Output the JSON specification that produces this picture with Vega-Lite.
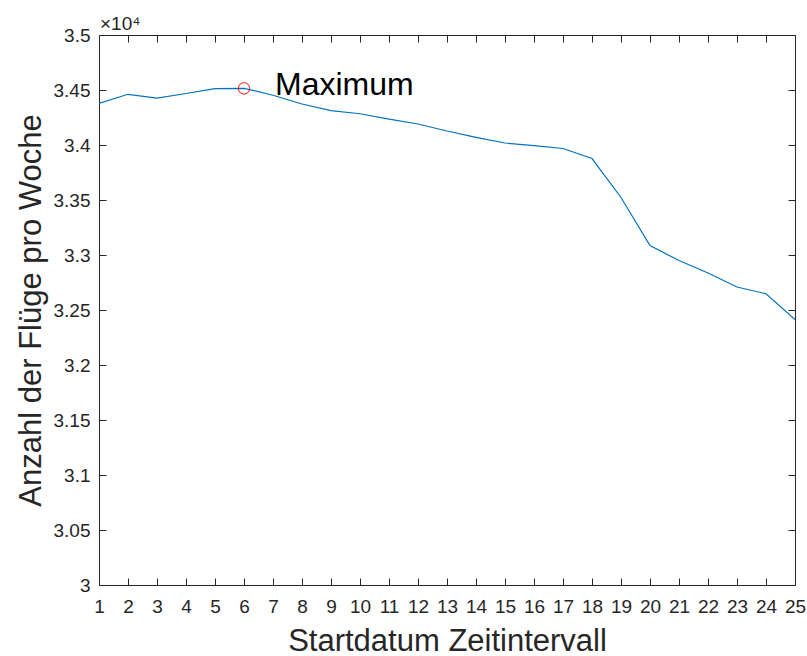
{
  "$schema": "https://vega.github.io/schema/vega-lite/v6.json",
  "autosize": "none",
  "width": 696,
  "height": 550,
  "padding": {"left": 99, "top": 35, "right": 12, "bottom": 71},
  "background": "white",
  "config": {
    "font": "Liberation Sans",
    "view": {"stroke": "#262626", "strokeWidth": 1},
    "axis": {
      "domainColor": "#262626",
      "tickColor": "#262626",
      "labelColor": "#262626",
      "titleColor": "#262626",
      "grid": false,
      "labelFont": "Liberation Sans",
      "titleFont": "Liberation Sans",
      "titleFontWeight": "normal",
      "domainWidth": 1,
      "tickWidth": 1
    }
  },
  "title": {
    "text": "×10⁴",
    "anchor": "start",
    "frame": "group",
    "font": "Liberation Sans",
    "fontSize": 19,
    "fontWeight": "normal",
    "color": "#262626",
    "offset": -8,
    "dx": 1
  },
  "datasets": {
    "flights": [
      {"interval": 1, "flights": 34379},
      {"interval": 2, "flights": 34461},
      {"interval": 3, "flights": 34427},
      {"interval": 4, "flights": 34468},
      {"interval": 5, "flights": 34512},
      {"interval": 6, "flights": 34515},
      {"interval": 7, "flights": 34452},
      {"interval": 8, "flights": 34373},
      {"interval": 9, "flights": 34312},
      {"interval": 10, "flights": 34284},
      {"interval": 11, "flights": 34236},
      {"interval": 12, "flights": 34191},
      {"interval": 13, "flights": 34127},
      {"interval": 14, "flights": 34070},
      {"interval": 15, "flights": 34018},
      {"interval": 16, "flights": 33994},
      {"interval": 17, "flights": 33968},
      {"interval": 18, "flights": 33877},
      {"interval": 19, "flights": 33523},
      {"interval": 20, "flights": 33085},
      {"interval": 21, "flights": 32950},
      {"interval": 22, "flights": 32836},
      {"interval": 23, "flights": 32709},
      {"interval": 24, "flights": 32648},
      {"interval": 25, "flights": 32414}
    ],
    "maximum": [
      {"interval": 6, "flights": 34515, "label": "Maximum"}
    ]
  },
  "layer": [
    {
      "data": {"name": "flights"},
      "mark": {"type": "line", "color": "#0072BD", "strokeWidth": 1.2, "clip": true},
      "encoding": {
        "x": {
          "field": "interval",
          "type": "quantitative",
          "scale": {"domain": [1, 25], "nice": false, "zero": false},
          "axis": {
            "orient": "bottom",
            "values": [1,2,3,4,5,6,7,8,9,10,11,12,13,14,15,16,17,18,19,20,21,22,23,24,25],
            "title": "Startdatum Zeitintervall",
            "titleFontSize": 31,
            "titlePadding": 10,
            "labelFontSize": 19,
            "ticks": false,
            "domain": false,
            "labelPadding": 12,
            "labelFlush": false,
            "labelOverlap": false
          }
        },
        "y": {
          "field": "flights",
          "type": "quantitative",
          "scale": {"domain": [30000, 35000], "nice": false, "zero": false},
          "axis": {
            "orient": "left",
            "values": [30000,30500,31000,31500,32000,32500,33000,33500,34000,34500,35000],
            "labelExpr": "datum.value / 10000",
            "title": "Anzahl der Flüge pro Woche",
            "titleFontSize": 31,
            "titlePadding": 6,
            "labelFontSize": 19,
            "ticks": false,
            "domain": false,
            "labelPadding": 9,
            "labelFlush": false,
            "labelOverlap": false
          }
        }
      }
    },
    {
      "data": {"name": "flights"},
      "mark": {"type": "line", "opacity": 0},
      "encoding": {
        "x": {
          "field": "interval",
          "type": "quantitative",
          "scale": {"domain": [1, 25], "nice": false, "zero": false},
          "axis": {
            "orient": "bottom",
            "offset": -7,
            "values": [1,2,3,4,5,6,7,8,9,10,11,12,13,14,15,16,17,18,19,20,21,22,23,24,25],
            "labels": false,
            "domain": false,
            "title": null,
            "tickSize": 7
          }
        },
        "y": {
          "field": "flights",
          "type": "quantitative",
          "scale": {"domain": [30000, 35000], "nice": false, "zero": false},
          "axis": {
            "orient": "left",
            "offset": -7,
            "values": [30000,30500,31000,31500,32000,32500,33000,33500,34000,34500,35000],
            "labels": false,
            "domain": false,
            "title": null,
            "tickSize": 7
          }
        }
      }
    },
    {
      "data": {"name": "flights"},
      "mark": {"type": "line", "opacity": 0},
      "encoding": {
        "x": {
          "field": "interval",
          "type": "quantitative",
          "scale": {"domain": [1, 25], "nice": false, "zero": false},
          "axis": {
            "orient": "top",
            "offset": -7,
            "values": [1,2,3,4,5,6,7,8,9,10,11,12,13,14,15,16,17,18,19,20,21,22,23,24,25],
            "labels": false,
            "domain": false,
            "title": null,
            "tickSize": 7
          }
        },
        "y": {
          "field": "flights",
          "type": "quantitative",
          "scale": {"domain": [30000, 35000], "nice": false, "zero": false},
          "axis": {
            "orient": "right",
            "offset": -7,
            "values": [30000,30500,31000,31500,32000,32500,33000,33500,34000,34500,35000],
            "labels": false,
            "domain": false,
            "title": null,
            "tickSize": 7
          }
        }
      }
    },
    {
      "data": {"name": "maximum"},
      "mark": {"type": "point", "shape": "circle", "filled": false, "color": "#FF0000", "size": 130, "strokeWidth": 1.2},
      "encoding": {
        "x": {"field": "interval", "type": "quantitative", "axis": null},
        "y": {"field": "flights", "type": "quantitative", "axis": null}
      }
    },
    {
      "data": {"name": "maximum"},
      "mark": {"type": "text", "align": "left", "baseline": "middle", "dx": 31, "dy": -3, "fontSize": 32, "font": "Liberation Sans", "color": "#000000"},
      "encoding": {
        "x": {"field": "interval", "type": "quantitative", "axis": null},
        "y": {"field": "flights", "type": "quantitative", "axis": null},
        "text": {"field": "label"}
      }
    }
  ],
  "resolve": {"axis": {"x": "independent", "y": "independent"}}
}
